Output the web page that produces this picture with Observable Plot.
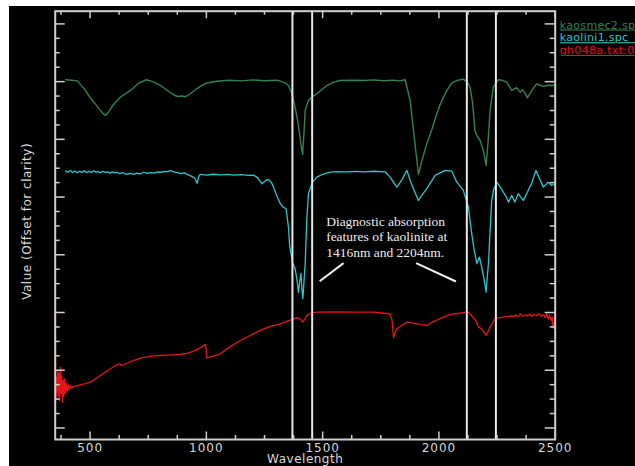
<!DOCTYPE html>
<html><head><meta charset="utf-8">
<script src="https://cdn.jsdelivr.net/npm/d3@7"></script>
<script src="https://cdn.jsdelivr.net/npm/@observablehq/plot@0.6"></script>
<style>
html,body{margin:0;padding:0;background:#fff;}
#bg{position:absolute;left:9px;top:6px;width:626px;height:460px;background:#000;overflow:hidden;}
#chart{position:absolute;left:-9px;top:-6px;}
g[aria-label="x-axis tick label"] text{letter-spacing:1px;}
</style></head><body><div id="bg"><div id="chart"></div></div>
<script>
// ---- data (wavelength nm, offset value) ----
const kaosmecWl = [395,420,445,470,500,530,555,566,580,600,630,673,710,742,770,803,840,870,881,895,910,931,950,974,1000,1046,1100,1150,1200,1250,1300,1318,1340,1353,1365,1375,1390,1400,1408,1414,1420,1425,1439,1460,1475,1500,1518,1545,1575,1620,1680,1720,1760,1800,1830,1855,1876,1895,1912,1930,1948,1970,1991,2010,2034,2055,2077,2105,2120,2134,2145,2155,2165,2177,2190,2203,2212,2220,2234,2255,2270,2291,2313,2325,2334,2349,2360,2370,2380,2400,2420,2435,2449,2470,2492,2500];
const kaosmecVal = [2.413,2.410,2.405,2.36,2.29,2.23,2.18,2.166,2.19,2.24,2.292,2.339,2.39,2.413,2.40,2.373,2.33,2.30,2.297,2.30,2.295,2.316,2.34,2.367,2.39,2.403,2.410,2.405,2.412,2.406,2.410,2.404,2.39,2.373,2.33,2.27,2.154,2.05,1.95,1.895,2.05,2.20,2.27,2.30,2.316,2.35,2.373,2.395,2.408,2.41,2.408,2.412,2.406,2.41,2.405,2.413,2.27,2.00,1.757,1.87,1.97,2.07,2.177,2.26,2.339,2.39,2.408,2.417,2.40,2.362,2.25,2.061,2.02,1.992,1.93,1.819,2.00,2.200,2.362,2.413,2.41,2.396,2.339,2.35,2.358,2.327,2.343,2.32,2.288,2.34,2.385,2.375,2.367,2.375,2.373,2.375];

const kaoliniWl = [395,405,415,425,435,445,455,465,475,485,495,505,515,525,535,545,555,565,575,585,595,605,615,625,640,655,670,688,700,715,730,745,760,775,790,805,820,835,845,860,875,890,905,917,935,950,960,968,974,1000,1030,1060,1090,1120,1150,1180,1203,1220,1239,1255,1267,1280,1289,1300,1318,1330,1343,1353,1358,1370,1382,1390,1396,1402,1407,1411,1415,1420,1425,1432,1439,1455,1475,1500,1532,1560,1600,1640,1680,1720,1769,1790,1819,1840,1862,1879,1895,1912,1930,1948,1984,2027,2055,2077,2105,2127,2141,2150,2163,2174,2184,2195,2203,2208,2213,2220,2227,2235,2249,2263,2277,2290,2299,2313,2327,2341,2352,2363,2380,2400,2417,2432,2449,2470,2485,2500];
const kaoliniVal = [1.780,1.772,1.785,1.770,1.781,1.768,1.779,1.771,1.783,1.769,1.778,1.770,1.782,1.773,1.776,1.768,1.779,1.771,1.774,1.766,1.775,1.768,1.772,1.763,1.770,1.758,1.765,1.757,1.766,1.760,1.772,1.764,1.770,1.766,1.775,1.772,1.778,1.776,1.785,1.775,1.770,1.762,1.768,1.757,1.745,1.730,1.696,1.745,1.757,1.752,1.758,1.754,1.757,1.752,1.756,1.750,1.752,1.735,1.692,1.715,1.722,1.700,1.669,1.62,1.554,1.53,1.519,1.392,1.265,1.15,1.10,1.022,0.941,1.02,1.071,0.96,0.895,1.02,1.140,1.45,1.623,1.70,1.738,1.758,1.773,1.776,1.775,1.778,1.774,1.779,1.775,1.738,1.669,1.717,1.785,1.703,1.64,1.577,1.62,1.658,1.750,1.785,1.780,1.703,1.646,1.530,1.346,1.25,1.138,1.184,1.114,1.022,0.941,1.05,1.140,1.369,1.577,1.65,1.703,1.670,1.634,1.60,1.565,1.611,1.565,1.623,1.60,1.577,1.634,1.70,1.785,1.73,1.669,1.703,1.68,1.692];

const gh048aWl = [350,351,352,354,356,358,361,363,366,369,372,375,378,381,384,387,390,393,397,401,405,410,415,420,430,450,475,502,540,587,623,630,637,660,688,720,759,800,850,888,920,945,970,996,999,1001,1030,1060,1100,1146,1200,1246,1280,1318,1345,1368,1390,1405,1414,1420,1432,1450,1475,1550,1650,1720,1760,1790,1798,1805,1812,1819,1840,1862,1905,1930,1948,1975,2005,2035,2062,2090,2110,2127,2148,2160,2170,2184,2195,2203,2212,2220,2241,2260,2277,2290,2300,2310,2320,2330,2340,2350,2360,2370,2380,2390,2400,2410,2420,2430,2440,2450,2458,2464,2470,2476,2482,2487,2491,2494,2497,2500];
const gh048aVal = [0.80,0.50,0.30,0.20,0.35,0.25,0.40,0.22,0.38,0.19,0.42,0.24,0.36,0.18,0.33,0.22,0.34,0.24,0.31,0.25,0.30,0.26,0.295,0.275,0.288,0.295,0.305,0.317,0.36,0.410,0.445,0.44,0.433,0.45,0.468,0.485,0.496,0.503,0.507,0.509,0.518,0.532,0.552,0.579,0.545,0.486,0.497,0.514,0.56,0.606,0.65,0.687,0.706,0.722,0.738,0.750,0.764,0.752,0.733,0.745,0.780,0.795,0.802,0.804,0.803,0.802,0.795,0.791,0.75,0.625,0.665,0.687,0.71,0.733,0.722,0.715,0.710,0.735,0.757,0.778,0.791,0.795,0.800,0.802,0.764,0.74,0.699,0.687,0.66,0.641,0.67,0.699,0.757,0.765,0.768,0.775,0.770,0.779,0.772,0.782,0.771,0.790,0.776,0.784,0.775,0.788,0.772,0.786,0.778,0.792,0.774,0.785,0.765,0.790,0.755,0.780,0.745,0.770,0.700,0.690,0.760,0.800];

const markerLines = [1370, 1455, 2120, 2245];
const noteWl = [1515];
const noteVal = [1.473];
const noteText = ["Diagnostic absorption\nfeatures of kaolinite at\n1416nm and 2204nm."];
const pointerFromWl = [1487, 1902];
const pointerFromVal = [1.017, 1.142];
const pointerToWl = [1590, 2073];
const pointerToVal = [1.142, 1.015];

const xMajorTicks = [500, 1000, 1500, 2000, 2500];
const xMinorTicks = [375, 625, 750, 875, 1125, 1250, 1375, 1625, 1750, 1875, 2125, 2250, 2375];
const yMajorTicks = [0, 0.4, 0.8, 1.2, 1.6, 2.0, 2.4, 2.8];
const yMinorTicks = [0.1,0.2,0.3,0.5,0.6,0.7,0.9,1.0,1.1,1.3,1.4,1.5,1.7,1.8,1.9,2.1,2.2,2.3,2.5,2.6,2.7];
const legendLabels = ["kaosmec2.spc", "kaolini1.spc\u00a0\u00a0\u00a0", "gh048a.txt:0"];
const xLabel = "Wavelength";
const yLabel = "Value (Offset for clarity)";

// ---- tables ----
const zip = (w, v) => w.map((d, i) => ({wl: d, v: v[i]}));
const kaosmec = zip(kaosmecWl, kaosmecVal);
const kaolini = zip(kaoliniWl, kaoliniVal);
const gh048a = zip(gh048aWl, gh048aVal);
const notes = noteWl.map((d, i) => ({wl: d, v: noteVal[i], text: noteText[i]}));
const pointers = pointerFromWl.map((d, i) => ({x1: d, y1: pointerFromVal[i], x2: pointerToWl[i], y2: pointerToVal[i]}));

const W = 635, H = 466, mL = 54.7, mR = 80.3, mT = 10.7, mB = 27;
const fH = H - mT - mB, fW = W - mL - mR;
const GREEN = "#33824f", CYAN = "#2cc6cc", RED = "#e5141b", AX = "#cfcfcf";

const chart = Plot.plot({
  width: W, height: H,
  marginLeft: mL, marginRight: mR, marginTop: mT, marginBottom: mB,
  style: {background: "transparent", color: AX, fontFamily: "DejaVu Sans"},
  x: {domain: [350, 2500]},
  y: {domain: [-0.08, 2.888], axis: null},
  marks: [
    Plot.line(kaosmec, {x: "wl", y: "v", stroke: GREEN, strokeWidth: 1.4}),
    Plot.line(kaolini, {x: "wl", y: "v", stroke: CYAN, strokeWidth: 1.3}),
    Plot.line(gh048a, {x: "wl", y: "v", stroke: RED, strokeWidth: 1.3}),
    Plot.ruleX(markerLines, {stroke: "#e8e8e8", strokeWidth: 2}),
    Plot.link(pointers, {x1: "x1", y1: "y1", x2: "x2", y2: "y2", stroke: "#f2f2f2", strokeWidth: 2}),
    Plot.text(notes, {x: "wl", y: "v", text: "text", textAnchor: "start", lineAnchor: "top",
      fontFamily: "Liberation Serif", fontSize: 13.5, lineHeight: 1.13, fill: "#ececec"}),
    Plot.frame({stroke: AX, strokeWidth: 2}),
    Plot.ruleX(xMajorTicks, {insetTop: fH - 7.5, stroke: AX, strokeWidth: 1.5}),
    Plot.ruleX(xMinorTicks, {insetTop: fH - 4, stroke: AX, strokeWidth: 1.5}),
    Plot.ruleX(xMajorTicks, {insetBottom: fH - 7.5, stroke: AX, strokeWidth: 1.5}),
    Plot.ruleX(xMinorTicks, {insetBottom: fH - 4, stroke: AX, strokeWidth: 1.5}),
    Plot.ruleY(yMajorTicks, {insetRight: fW - 10, stroke: AX, strokeWidth: 1.5}),
    Plot.ruleY(yMinorTicks, {insetRight: fW - 5, stroke: AX, strokeWidth: 1.5}),
    Plot.ruleY(yMajorTicks, {insetLeft: fW - 10, stroke: AX, strokeWidth: 1.5}),
    Plot.ruleY(yMinorTicks, {insetLeft: fW - 5, stroke: AX, strokeWidth: 1.5}),
    Plot.axisX(xMajorTicks, {anchor: "bottom", tickSize: 0, tickPadding: 4, fontSize: 12,
      label: null, tickFormat: d => String(d), fill: "#d8d8d8"}),
    Plot.text([xLabel], {frameAnchor: "bottom", lineAnchor: "top", dy: 14.5, fontSize: 12, fill: "#d8d8d8"}),
    Plot.text([yLabel], {frameAnchor: "left", textAnchor: "middle", lineAnchor: "middle", rotate: -90, dx: -28, dy: -4, fontSize: 12, fill: "#d8d8d8"}),
    Plot.text([legendLabels[0]], {frameAnchor: "top-right", textAnchor: "start", lineAnchor: "bottom", dx: 4.6, dy: 17.3, fontSize: 11, fill: GREEN}),
    Plot.text([legendLabels[1]], {frameAnchor: "top-right", textAnchor: "start", lineAnchor: "bottom", dx: 4.6, dy: 30, fontSize: 11, fill: CYAN}),
    Plot.text([legendLabels[2]], {frameAnchor: "top-right", textAnchor: "start", lineAnchor: "bottom", dx: 4.6, dy: 42.7, fontSize: 11, fill: RED})
  ]
});
chart.querySelectorAll("text").forEach(t => {
  if (legendLabels.includes(t.textContent)) { t.style.textDecoration = "underline"; t.style.letterSpacing = "0.3px"; }
  if (t.textContent === yLabel || t.textContent === xLabel) t.style.letterSpacing = "0.5px";
});
document.getElementById("chart").append(chart);
</script></body></html>
